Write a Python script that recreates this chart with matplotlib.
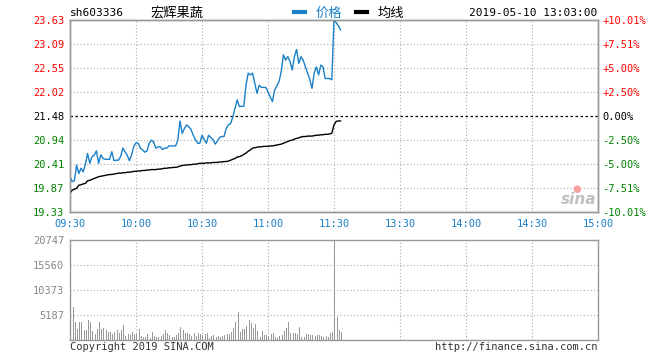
import matplotlib
matplotlib.use("Agg")
import matplotlib.pyplot as plt
from matplotlib.lines import Line2D
import numpy as np

# quote header
code = "sh603336"
name = "宏辉果蔬"
stamp = "2019-05-10 13:03:00"
prev_close = 21.48

# one value per minute from 09:30 (index 0) to 13:03 (index 123)
price = [
    20.13, 20.01, 20.03, 20.38, 20.19, 20.31, 20.23, 20.40, 20.64, 20.42,
    20.57, 20.60, 20.70, 20.42, 20.61, 20.53, 20.51, 20.51, 20.51, 20.68,
    20.48, 20.49, 20.49, 20.57, 20.76, 20.68, 20.60, 20.48, 20.61, 20.80,
    20.88, 20.87, 20.76, 20.72, 20.67, 20.70, 20.87, 20.94, 20.90, 20.76,
    20.79, 20.79, 20.73, 20.76, 20.76, 20.81, 20.81, 20.81, 20.81, 20.94,
    21.37, 21.09, 21.20, 21.28, 21.24, 21.18, 21.05, 20.95, 20.87, 20.87,
    21.05, 20.95, 20.87, 21.05, 21.00, 20.95, 20.85, 20.92, 21.00, 21.02,
    21.02, 21.20, 21.28, 21.31, 21.46, 21.65, 21.84, 21.69, 21.70, 21.70,
    22.17, 22.44, 22.40, 22.44, 22.21, 21.99, 22.17, 22.12, 22.12, 22.12,
    22.02, 21.91, 21.80, 22.06, 22.15, 22.25, 22.47, 22.85, 22.73, 22.81,
    22.70, 22.51, 22.81, 22.97, 22.66, 22.81, 22.73, 22.58, 22.44, 22.30,
    22.10, 22.44, 22.58, 22.40, 22.62, 22.58, 22.32, 22.32, 22.32, 22.29,
    23.63, 23.57, 23.50, 23.41,
]
avg_price = [
    19.75, 19.82, 19.84, 19.86, 19.93, 19.94, 19.96, 19.97, 20.03, 20.04,
    20.06, 20.08, 20.10, 20.12, 20.13, 20.14, 20.15, 20.16, 20.17, 20.17,
    20.18, 20.19, 20.20, 20.20, 20.21, 20.21, 20.22, 20.22, 20.23, 20.24,
    20.24, 20.25, 20.25, 20.26, 20.26, 20.27, 20.27, 20.28, 20.28, 20.28,
    20.29, 20.29, 20.30, 20.31, 20.31, 20.32, 20.32, 20.33, 20.33, 20.34,
    20.36, 20.37, 20.38, 20.38, 20.39, 20.39, 20.40, 20.40, 20.41, 20.42,
    20.42, 20.42, 20.43, 20.43, 20.43, 20.44, 20.44, 20.44, 20.45, 20.45,
    20.46, 20.46, 20.47, 20.49, 20.51, 20.53, 20.56, 20.57, 20.59, 20.62,
    20.65, 20.69, 20.72, 20.76, 20.77, 20.78, 20.79, 20.79, 20.80, 20.80,
    20.80, 20.81, 20.81, 20.82, 20.83, 20.84, 20.85, 20.87, 20.89, 20.91,
    20.93, 20.94, 20.96, 20.98, 20.99, 21.01, 21.02, 21.02, 21.03, 21.03,
    21.03, 21.04, 21.05, 21.05, 21.06, 21.06, 21.07, 21.07, 21.08, 21.09,
    21.28, 21.36, 21.37, 21.37,
]
volume = [
    19600, 6900, 3800, 2280, 3800, 3800, 2070, 2070, 4150, 3660,
    1870, 1250, 2280, 3800, 2280, 2560, 2070, 1590, 1730, 1250,
    1730, 2070, 1380, 2070, 3110, 900, 1180, 1040, 1730, 1250,
    1180, 2280, 900, 690, 690, 1250, 350, 1730, 900, 690,
    550, 900, 1180, 2070, 1380, 1040, 550, 550, 1040, 1520,
    2770, 2070, 1520, 1380, 1180, 900, 1380, 900, 1380, 1180,
    1040, 1180, 1380, 480, 900, 1040, 550, 900, 550, 900,
    1040, 1180, 1180, 1730, 2420, 3800, 5880, 1730, 2280, 2280,
    2970, 4150, 3460, 2420, 3250, 1870, 550, 1940, 1040, 1040,
    900, 1250, 1380, 550, 350, 900, 1040, 1940, 2420, 3800,
    1520, 1380, 1380, 1250, 2770, 690, 690, 1250, 1250, 1040,
    1040, 900, 1040, 1040, 900, 690, 900, 690, 1520, 1730,
    20747, 4840, 2070, 1730,
]

price_ticks = [19.33, 19.87, 20.41, 20.94, 21.48, 22.02, 22.55, 23.09, 23.63]
pct_labels = ["-10.01%", "-7.51%", "-5.00%", "-2.50%", "0.00%",
              "+2.50%", "+5.00%", "+7.51%", "+10.01%"]
vol_ticks = [5187, 10373, 15560, 20747]
time_pos = [0, 30, 60, 90, 120, 150, 180, 210, 240]
time_labels = ["09:30", "10:00", "10:30", "11:00", "11:30",
               "13:30", "14:00", "14:30", "15:00"]

W, H = 660, 360
mono = "DejaVu Sans Mono"
cjk = ["Noto Sans CJK SC", "DejaVu Sans"]
frame = "#999999"
blue = "#1a80c8"
red = "#ff0000"
green = "#008000"
dots = (0, (1, 2))


def fx(x):
    return x / W


def fy(y):
    return 1 - y / H


fig = plt.figure(figsize=(6.6, 3.6), dpi=100)
fig.patch.set_facecolor("white")

# price panel
ax = fig.add_axes([fx(70), fy(212), fx(528), 192 / H])
idx = np.arange(len(price))
ax.plot(idx, price, color=blue, lw=1.0, zorder=3)
ax.plot(idx, avg_price, color="black", lw=1.0, zorder=3)
ax.set_xlim(0, 240)
ax.set_ylim(price_ticks[0], price_ticks[-1])

for t in price_ticks[1:-1]:
    if t == prev_close:
        ax.axhline(t, color="black", lw=0.9, dashes=(2, 2), zorder=2)
    else:
        ax.axhline(t, color="#aaaaaa", lw=0.8, ls=dots, zorder=1)
for t in time_pos[1:-1]:
    ax.axvline(t, color="#aaaaaa", lw=0.8, ls=dots, zorder=1)

ax.set_yticks(price_ticks)
ax.set_yticklabels(["%.2f" % t for t in price_ticks], family=mono, fontsize=7.5)
for lab, t in zip(ax.get_yticklabels(), price_ticks):
    lab.set_color(red if t > prev_close else (green if t < prev_close else "black"))
ax.set_xticks(time_pos)
ax.set_xticklabels(time_labels, family=mono, fontsize=7.5, color=blue)
ax.tick_params(length=0, pad=4)
ax.tick_params(axis="x", pad=5)
for s in ax.spines.values():
    s.set_color(frame)
    s.set_linewidth(1.0)

ax2 = ax.twinx()
ax2.set_ylim(price_ticks[0], price_ticks[-1])
ax2.set_yticks(price_ticks)
ax2.set_yticklabels(pct_labels, family=mono, fontsize=7.5)
for lab, t in zip(ax2.get_yticklabels(), price_ticks):
    lab.set_color(red if t > prev_close else (green if t < prev_close else "black"))
ax2.tick_params(length=0, pad=3)
for s in ax2.spines.values():
    s.set_color(frame)
    s.set_linewidth(1.0)

# volume panel
axv = fig.add_axes([fx(70), fy(340), fx(528), 100 / H])
axv.bar(np.arange(len(volume)) + 0.45, volume, width=0.45,
        color="#999999", zorder=3)
axv.set_xlim(0, 240)
axv.set_ylim(0, vol_ticks[-1])
for t in vol_ticks[:-1]:
    axv.axhline(t, color="#aaaaaa", lw=0.8, ls=dots, zorder=1)
for t in time_pos[1:-1]:
    axv.axvline(t, color="#aaaaaa", lw=0.8, ls=dots, zorder=1)
axv.set_yticks(vol_ticks)
axv.set_yticklabels([str(v) for v in vol_ticks], family=mono, fontsize=7.5,
                    color="#888888")
axv.set_xticks([])
axv.tick_params(length=0, pad=4)
for s in axv.spines.values():
    s.set_color(frame)
    s.set_linewidth(1.0)

# header
fig.text(fx(70), fy(13), code, family=mono, fontsize=8, va="center", ha="left")
fig.text(fx(150), fy(13), name, family=cjk, fontsize=9.5, va="center", ha="left")
fig.text(fx(597), fy(13), stamp, family=mono, fontsize=8, va="center", ha="right")
handles = [Line2D([], [], color=blue, lw=3), Line2D([], [], color="black", lw=3)]
fig.legend(handles, ["价格", "均线"], loc="center left",
           bbox_to_anchor=(fx(294), fy(13)), ncol=2, frameon=False,
           prop={"family": cjk, "size": 9.5}, labelcolor=[blue, "black"],
           handlelength=0.8, handletextpad=0.8, columnspacing=1.1,
           borderpad=0, borderaxespad=0)

# footer
fig.text(fx(70), fy(347), "Copyright 2019 SINA.COM", family=mono, fontsize=7.5,
         color="#333333", va="center", ha="left")
fig.text(fx(598), fy(347), "http://finance.sina.com.cn", family=mono,
         fontsize=7.5, color="#333333", va="center", ha="right")

# sina watermark
fig.text(fx(596), fy(200), "sina", fontsize=11, fontweight="bold",
         style="italic", color="#c0c0c0", va="center", ha="right")
fig.text(fx(577), fy(189), "●", fontsize=7, color="#f4a0a0", va="center",
         ha="center")

fig.savefig("out.png", dpi=100)
